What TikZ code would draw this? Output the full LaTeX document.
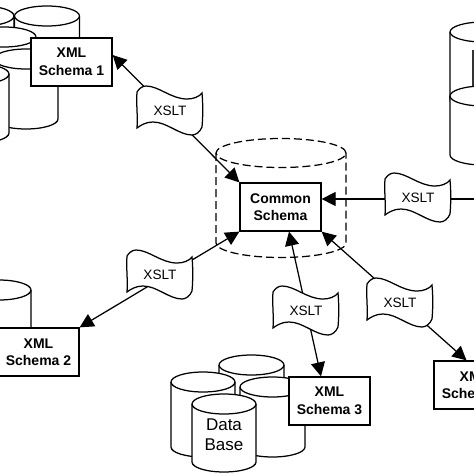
\documentclass[tikz,border=0pt]{standalone}
\usepackage{fontspec}
\setmainfont{Liberation Sans}
\usetikzlibrary{arrows.meta}
\tikzset{
  x=1pt,y=-1pt,
  ln/.style={line width=1.25pt,black},
  box/.style={draw,ln,fill=white,minimum width=81pt,minimum height=48pt,inner sep=0pt,align=center,font=\fontsize{14}{17.5}\selectfont\bfseries},
  flagtext/.style={inner sep=0pt,minimum width=65pt,minimum height=49pt,font=\fontsize{13.6}{16}\selectfont},
  link/.style={ln,{Triangle[length=14pt,width=14pt]}-{Triangle[length=14pt,width=14pt]}},
  linkone/.style={ln,{Triangle[length=14pt,width=14pt]}-},
}
% cx, top centre y, rx, bottom centre y
\newcommand{\cylndr}[4]{%
  \path[fill=white] (#1-#2,#3) -- (#1-#2,#4) arc[start angle=180,end angle=360,x radius=#2pt,y radius=10pt] -- (#1+#2,#3) arc[start angle=0,end angle=180,x radius=#2pt,y radius=10pt] -- cycle;
  \draw[ln] (#1-#2,#3) -- (#1-#2,#4) arc[start angle=180,end angle=360,x radius=#2pt,y radius=10pt] -- (#1+#2,#3);
  \draw[ln] (#1,#3) ellipse[x radius=#2pt,y radius=10pt];
}
% flag at top-left x,y
\newcommand{\flagshape}[3]{%
  \draw[ln,fill=white,shift={(#1,#2)}] (0,6) .. controls (2,3) and (5,0) .. (9,0) .. controls (22,0) and (34,13) .. (50,13) .. controls (56,13) and (62,11) .. (65,7) .. controls (66,18) and (66,30) .. (65,41) .. controls (63,46) and (59,49) .. (55,49) .. controls (42,49) and (30,36) .. (16,36) .. controls (9,36) and (4,39) .. (0,42) .. controls (1,30) and (-1,18) .. (0,6) -- cycle;
  \node[flagtext] (#3) at (#1+33,#2+25) {XSLT};
}
\begin{document}
\begin{tikzpicture}
\useasboundingbox (0,0) rectangle (474,474);
\clip (0,0) rectangle (474,474);
\fill[white] (0,0) rectangle (474,474);
% top-left group
\cylndr{-18}{32}{16}{60}
\cylndr{47}{32.5}{16}{60}
\cylndr{4}{32}{37}{95}
\cylndr{26}{32}{59}{119}
\cylndr{-23}{32}{74}{133}
% bottom-left
\cylndr{-1}{32}{290}{340}
% top-right
\cylndr{483}{33}{32}{100}
\draw[line width=2.6pt,black!80] (473,50) -- (473,88);
\cylndr{483}{33}{96}{155}
% bottom group
\cylndr{251.5}{32.5}{365}{420}
\cylndr{203}{32}{382}{447}
\cylndr{272.5}{32.5}{387}{447}
\cylndr{224}{32}{404}{462}
\node[font=\fontsize{17}{20}\selectfont,align=center,inner sep=0pt] (db) at (224,435) {Data\\Base};
% common
\path[fill=white] (216,153) -- (216,243) arc[start angle=180,end angle=360,x radius=65pt,y radius=14.5pt] -- (346,153) -- cycle;
\draw[ln,dash pattern=on 8pt off 4pt] (216,153) -- (216,243) arc[start angle=180,end angle=360,x radius=65pt,y radius=14.5pt] -- (346,153);
\draw[ln,dash pattern=on 8pt off 4pt] (281,153) ellipse[x radius=65pt,y radius=14.5pt];
% boxes
\node[box] (cs) at (280.5,207) {Common\\Schema};
\node[box] (s1) at (71.5,62) {XML\\Schema 1};
\node[box] (s2) at (38.5,352) {XML\\Schema 2};
\node[box] (s3) at (329.5,401) {XML\\Schema 3};
\node[box] (s4) at (474.5,385) {XML\\Schema 4};
\coordinate (edge) at (476,199);
% connectors
\draw[link] ([yshift=7pt]s1.east) -- (cs.north west);
\draw[link] (s2.north east) -- (cs.south west);
\draw[link] ([xshift=-8.5pt]s3.north) -- ([xshift=8.5pt]cs.south);
\draw[link] ([xshift=-8pt]s4.north) -- (cs.south east);
\draw[linkone] ([yshift=8pt]cs.east) -- (edge);
% flags
\flagshape{137}{86}{f1}
\flagshape{385}{173}{f2}
\flagshape{127}{250}{f3}
\flagshape{273}{286}{f4}
\flagshape{367}{278}{f5}
\end{tikzpicture}
\end{document}
